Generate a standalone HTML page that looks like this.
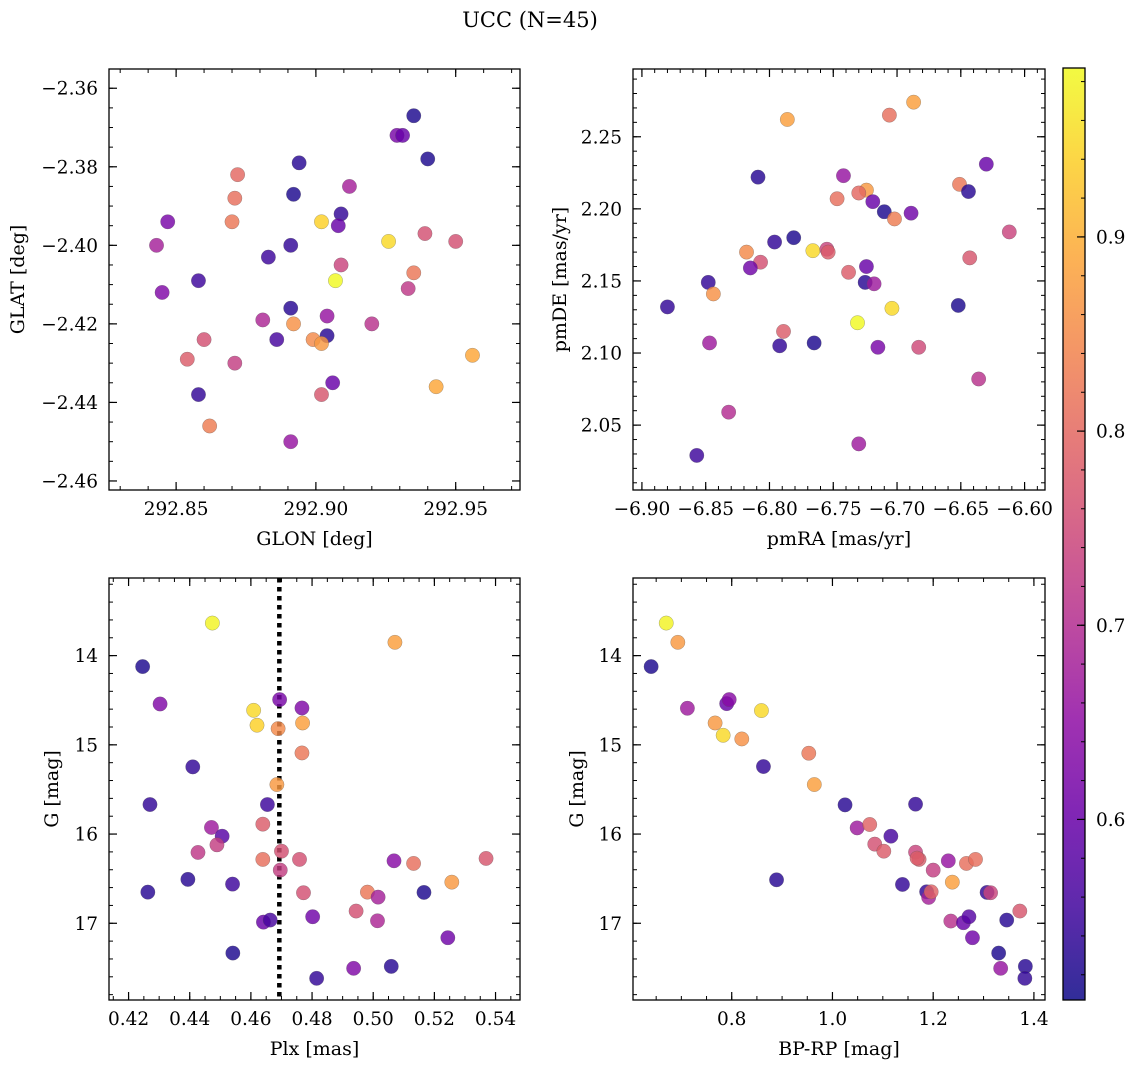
<!DOCTYPE html>
<html><head><meta charset="utf-8"><style>
html,body{margin:0;padding:0;background:#fff;}
svg{display:block;font-family:"DejaVu Serif","Liberation Serif",serif;}
</style></head><body>
<svg id="fig" width="1136" height="1068" viewBox="0 0 1136 1068" xmlns="http://www.w3.org/2000/svg">
<text x="530" y="27" font-size="21" text-anchor="middle">UCC (N=45)</text>
</svg>
<script>
// Panel 1: GLON vs GLAT
const glon=[292.935,292.929,292.931,292.940,292.894,292.872,292.912,292.871,292.892,292.909,292.902,292.908,292.870,292.847,292.843,292.891,292.926,292.939,292.950,292.883,292.909,292.907,292.935,292.858,292.845,292.933,292.891,292.881,292.904,292.892,292.920,292.860,292.886,292.904,292.899,292.902,292.854,292.871,292.956,292.906,292.943,292.858,292.902,292.862,292.891];
const glat=[-2.367,-2.372,-2.372,-2.378,-2.379,-2.382,-2.385,-2.388,-2.387,-2.392,-2.394,-2.395,-2.394,-2.394,-2.400,-2.400,-2.399,-2.397,-2.399,-2.403,-2.405,-2.409,-2.407,-2.409,-2.412,-2.411,-2.416,-2.419,-2.418,-2.420,-2.420,-2.424,-2.424,-2.423,-2.424,-2.425,-2.429,-2.430,-2.428,-2.435,-2.436,-2.438,-2.438,-2.446,-2.450];
const prob1=[.52,.62,.60,.52,.53,.80,.68,.81,.52,.54,.94,.60,.82,.62,.68,.54,.95,.76,.76,.55,.74,.99,.82,.55,.63,.72,.53,.69,.66,.86,.71,.76,.56,.53,.85,.87,.78,.73,.89,.60,.89,.54,.77,.83,.66];
const glonTicks=[292.85,292.90,292.95];
const glatTicks=[-2.36,-2.38,-2.40,-2.42,-2.44,-2.46];
// Panel 2: pmRA vs pmDE
const pmra=[-6.687,-6.706,-6.786,-6.630,-6.809,-6.742,-6.651,-6.644,-6.724,-6.730,-6.747,-6.719,-6.710,-6.689,-6.702,-6.612,-6.781,-6.796,-6.818,-6.766,-6.755,-6.754,-6.807,-6.815,-6.643,-6.724,-6.738,-6.848,-6.725,-6.718,-6.844,-6.880,-6.652,-6.704,-6.731,-6.789,-6.847,-6.792,-6.765,-6.715,-6.683,-6.636,-6.832,-6.730,-6.857];
const pmde=[2.274,2.265,2.262,2.231,2.222,2.223,2.217,2.212,2.213,2.211,2.207,2.205,2.198,2.197,2.193,2.184,2.180,2.177,2.170,2.171,2.172,2.170,2.163,2.159,2.166,2.160,2.156,2.149,2.149,2.148,2.141,2.132,2.133,2.131,2.121,2.115,2.107,2.105,2.107,2.104,2.104,2.082,2.059,2.037,2.029];
const prob2=[.88,.81,.88,.60,.53,.66,.82,.53,.87,.80,.81,.60,.52,.61,.83,.74,.52,.54,.85,.95,.74,.78,.76,.61,.77,.60,.78,.54,.53,.67,.86,.54,.52,.95,.99,.78,.67,.54,.52,.62,.75,.71,.70,.67,.55];
const pmraTicks=[-6.90,-6.85,-6.80,-6.75,-6.70,-6.65,-6.60];
const pmdeTicks=[2.05,2.10,2.15,2.20,2.25];
// Panel 3: Plx vs G
const plx=[.4474,.5071,.4246,.4303,.4694,.4767,.4609,.4769,.4620,.4689,.4767,.4410,.4685,.4270,.4654,.4639,.4471,.4506,.4489,.4700,.4427,.4639,.4759,.5068,.5132,.5369,.4696,.4394,.5257,.4540,.4263,.4772,.4981,.5016,.5166,.4802,.4944,.5014,.4641,.4663,.5244,.4541,.4936,.5059,.4815];
const g3=[13.635,13.851,14.123,14.542,14.493,14.587,14.613,14.755,14.780,14.818,15.091,15.247,15.445,15.669,15.669,15.889,15.926,16.024,16.121,16.192,16.206,16.284,16.284,16.300,16.329,16.273,16.404,16.508,16.539,16.561,16.651,16.658,16.651,16.707,16.654,16.927,16.863,16.972,16.987,16.964,17.162,17.334,17.505,17.483,17.617];
const prob3=[.98,.88,.52,.63,.62,.63,.95,.88,.94,.85,.82,.54,.87,.54,.55,.78,.67,.58,.73,.76,.72,.81,.76,.64,.81,.77,.73,.53,.87,.55,.53,.76,.82,.68,.52,.61,.76,.69,.60,.56,.61,.52,.63,.53,.54];
const plxTicks=[0.42,0.44,0.46,0.48,0.50,0.52,0.54];
const plxLine=[0.4693];
const gTicks=[14,15,16,17];
// Panel 4: BP-RP vs G
const bprp=[.670,.693,.640,.712,.790,.795,.859,.767,.783,.820,.953,.863,.964,1.025,1.165,1.049,1.074,1.116,1.084,1.102,1.165,1.172,1.230,1.266,1.284,1.200,1.238,.889,1.139,1.187,1.191,1.196,1.307,1.314,1.372,1.235,1.260,1.271,1.346,1.278,1.330,1.334,1.383,1.382,1.168];
const g4=[13.635,13.851,14.123,14.590,14.538,14.493,14.616,14.755,14.893,14.934,15.094,15.243,15.445,15.673,15.665,15.931,15.893,16.024,16.113,16.192,16.203,16.284,16.300,16.329,16.284,16.404,16.539,16.513,16.565,16.647,16.710,16.647,16.654,16.658,16.863,16.975,16.994,16.927,16.964,17.162,17.334,17.505,17.483,17.617,16.270];
const prob4=[.98,.87,.52,.67,.60,.64,.95,.87,.95,.86,.82,.54,.88,.53,.54,.67,.79,.56,.76,.78,.74,.78,.66,.81,.81,.73,.88,.53,.54,.54,.68,.79,.54,.74,.77,.71,.60,.58,.53,.61,.52,.66,.53,.54,.78];
const bprpTicks=[0.8,1.0,1.2,1.4];
const cbarTicks=[0.6,0.7,0.8,0.9];

const NS="http://www.w3.org/2000/svg";
const svg=document.getElementById('fig');
const VMIN=0.507,VMAX=0.987;
const TFS=18.5, LFS=19;
const stops=[[13,8,135],[65,4,157],[106,0,168],[143,13,164],[177,42,144],[204,71,120],[225,100,98],[242,132,75],[252,166,54],[252,206,37],[240,249,33]];
function plasma(t){t=Math.max(0,Math.min(1,t));const s=t*10,i=Math.min(9,Math.floor(s)),f=s-i;const a=stops[i],b=stops[i+1];return 'rgb('+a.map((v,k)=>Math.round(v+(b[k]-v)*f)).join(',')+')';}
function mk(tag,attrs,parent){const e=document.createElementNS(NS,tag);for(const k in attrs)e.setAttribute(k,attrs[k]);(parent||svg).appendChild(e);return e;}
function fmt(v,d){return (v<0?'\u2212':'')+Math.abs(v).toFixed(d);}

function panel(o){
  const g=mk('g',{});
  
  
  const sx=v=>o.L+(v-o.x0)/(o.x1-o.x0)*(o.R-o.L);
  const sy=v=>o.inv? o.T+(v-o.y0)/(o.y1-o.y0)*(o.B-o.T) : o.B-(v-o.y0)/(o.y1-o.y0)*(o.B-o.T);
  const eps=1e-9;
  for(let v=Math.ceil(o.x0/o.xmin-eps)*o.xmin; v<=o.x1+eps; v+=o.xmin){const x=sx(v);
    mk('line',{x1:x,x2:x,y1:o.B,y2:o.B-4,stroke:'#000','stroke-width':1},g);
    mk('line',{x1:x,x2:x,y1:o.T,y2:o.T+4,stroke:'#000','stroke-width':1},g);}
  for(let v=Math.ceil(o.y0/o.ymin-eps)*o.ymin; v<=o.y1+eps; v+=o.ymin){const y=sy(v);
    mk('line',{x1:o.L,x2:o.L+4,y1:y,y2:y,stroke:'#000','stroke-width':1},g);
    mk('line',{x1:o.R,x2:o.R-4,y1:y,y2:y,stroke:'#000','stroke-width':1},g);}
  o.xt.forEach(v=>{const x=sx(v);
    mk('line',{x1:x,x2:x,y1:o.B,y2:o.B-8,stroke:'#000','stroke-width':1.2},g);
    mk('line',{x1:x,x2:x,y1:o.T,y2:o.T+8,stroke:'#000','stroke-width':1.2},g);
    const t=mk('text',{x:x,y:o.B+25,'font-size':TFS,'text-anchor':'middle'},g);
    
    
    t.textContent=fmt(v,o.xd);});
  o.yt.forEach(v=>{const y=sy(v);
    mk('line',{x1:o.L,x2:o.L+8,y1:y,y2:y,stroke:'#000','stroke-width':1.2},g);
    mk('line',{x1:o.R,x2:o.R-8,y1:y,y2:y,stroke:'#000','stroke-width':1.2},g);
    const t=mk('text',{x:o.L-11,y:y+6.5,'font-size':TFS,'text-anchor':'end'},g);
    
    
    t.textContent=fmt(v,o.yd);});
  if(o.vline){o.vline.forEach(v=>{const l=mk('line',{x1:sx(v),x2:sx(v),y1:o.T,y2:o.B,stroke:'#000','stroke-width':4.5,'stroke-dasharray':'4.5 4.5'},g);
    
    });}
  o.xs.forEach((_,i)=>{const c=mk('circle',{cx:sx(o.xs[i]),cy:sy(o.ys[i]),r:7.2,fill:plasma((o.cs[i]-VMIN)/(VMAX-VMIN)),'fill-opacity':0.82,stroke:'#555','stroke-opacity':0.5,'stroke-width':0.5},g);
    
    });
  mk('rect',{x:o.L,y:o.T,width:o.R-o.L,height:o.B-o.T,fill:'none',stroke:'#000','stroke-width':1.3},g);
  const xl=mk('text',{x:(o.L+o.R)/2,y:o.B+55,'font-size':LFS,'text-anchor':'middle'},g);
  
  
  xl.textContent=o.xlab;
  const cy=(o.T+o.B)/2;
  const yl=mk('text',{x:o.ylx,y:cy,'font-size':LFS,'text-anchor':'middle',transform:'rotate(-90 '+o.ylx+' '+cy+')'},g);
  
  
  yl.textContent=o.ylab;
}
panel({name:'glon-glat-panel',L:109,R:520,T:69,B:490,x0:292.826,x1:292.973,y0:-2.4623,y1:-2.3551,xt:glonTicks,yt:glatTicks,xmin:0.01,ymin:0.005,xd:2,yd:2,xs:glon,ys:glat,cs:prob1,xlab:'GLON [deg]',ylab:'GLAT [deg]',ylx:24});
panel({name:'pm-panel',L:633,R:1045,T:69,B:490,x0:-6.907,x1:-6.584,y0:2.005,y1:2.297,xt:pmraTicks,yt:pmdeTicks,xmin:0.01,ymin:0.01,xd:2,yd:2,xs:pmra,ys:pmde,cs:prob2,xlab:'pmRA [mas/yr]',ylab:'pmDE [mas/yr]',ylx:566});
panel({name:'plx-g-panel',L:109,R:520,T:578,B:1000,x0:0.4136,x1:0.548,y0:13.13,y1:17.86,inv:true,xt:plxTicks,yt:gTicks,xmin:0.005,ymin:0.2,xd:2,yd:0,xs:plx,ys:g3,cs:prob3,xlab:'Plx [mas]',ylab:'G [mag]',ylx:58,vline:plxLine});
panel({name:'cmd-panel',L:633,R:1045,T:578,B:1000,x0:0.604,x1:1.422,y0:13.13,y1:17.86,inv:true,xt:bprpTicks,yt:gTicks,xmin:0.05,ymin:0.2,xd:1,yd:0,xs:bprp,ys:g4,cs:prob4,xlab:'BP-RP [mag]',ylab:'G [mag]',ylx:583});

// colorbar
(function(){
  const L=1063,R=1085,T=68,B=1000;
  const g=mk('g',{});
  
  
  const defs=mk('defs',{},g);
  const lg=mk('linearGradient',{id:'cb',x1:0,y1:1,x2:0,y2:0},defs);
  for(let i=0;i<=20;i++){mk('stop',{offset:i/20,'stop-color':plasma(i/20),'stop-opacity':0.85},lg);}
  mk('rect',{x:L,y:T,width:R-L,height:B-T,fill:'url(#cb)'},g);
  const sy=v=>B-(v-VMIN)/(VMAX-VMIN)*(B-T);
  for(let v=0.52;v<=VMAX+1e-9;v+=0.02){const y=sy(v);mk('line',{x1:R,x2:R-4,y1:y,y2:y,stroke:'#000','stroke-width':1},g);}
  cbarTicks.forEach(v=>{const y=sy(v);
    mk('line',{x1:R,x2:R-8,y1:y,y2:y,stroke:'#000','stroke-width':1.2},g);
    const t=mk('text',{x:R+11,y:y+6.5,'font-size':TFS},g);
    
    
    t.textContent=v.toFixed(1);});
  mk('rect',{x:L,y:T,width:R-L,height:B-T,fill:'none',stroke:'#000','stroke-width':1.3},g);
})();
</script>
</body></html>
